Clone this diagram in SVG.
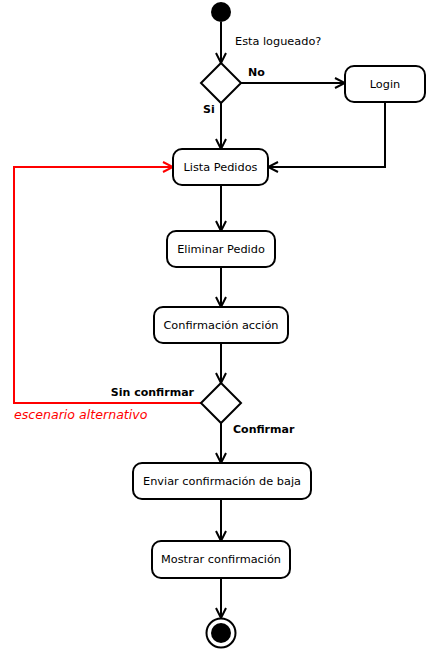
<svg xmlns="http://www.w3.org/2000/svg" width="426" height="650" viewBox="0 0 426 650">
<defs>
<style>
.node rect{fill:#fff;stroke:#000;stroke-width:2}
.dec polygon{fill:#fff;stroke:#000;stroke-width:2}
.t{font-family:"DejaVu Sans",Verdana,sans-serif;font-size:11.3px;fill:#000;text-anchor:middle}
.lb{font-family:"DejaVu Sans",Verdana,sans-serif;font-size:11px;font-weight:bold;fill:#000}
.it{font-family:"DejaVu Sans",Verdana,sans-serif;font-size:12.6px;font-style:italic;fill:#f00}
.ln{fill:none;stroke:#000;stroke-width:2}
.red{fill:none;stroke:#f00;stroke-width:2}
</style>
<marker id="ah" viewBox="0 0 12 12" refX="11" refY="6" markerWidth="12" markerHeight="12" markerUnits="userSpaceOnUse" orient="auto">
<path d="M1,1 L11,6 L1,11" fill="none" stroke="#000" stroke-width="2"/>
</marker>
<marker id="ahr" viewBox="0 0 12 12" refX="11" refY="6" markerWidth="12" markerHeight="12" markerUnits="userSpaceOnUse" orient="auto">
<path d="M1,1 L11,6 L1,11" fill="none" stroke="#f00" stroke-width="2"/>
</marker>
</defs>
<rect width="426" height="650" fill="#fff"/>
<g id="connectors">
<path class="ln" d="M221,22 V63" marker-end="url(#ah)"/>
<path class="ln" d="M241,83 H345" marker-end="url(#ah)"/>
<path class="ln" d="M221,103 V149" marker-end="url(#ah)"/>
<path class="ln" d="M385,102 V167 H268" marker-end="url(#ah)"/>
<path class="ln" d="M221,185 V231" marker-end="url(#ah)"/>
<path class="ln" d="M221,267 V307" marker-end="url(#ah)"/>
<path class="ln" d="M221,343 V383" marker-end="url(#ah)"/>
<path class="red" d="M201,403 H14 V167 H173" marker-end="url(#ahr)"/>
<path class="ln" d="M221,423 V463" marker-end="url(#ah)"/>
<path class="ln" d="M221,499 V541" marker-end="url(#ah)"/>
<path class="ln" d="M221,578 V618" marker-end="url(#ah)"/>
<text class="t" x="235" y="45" style="text-anchor:start">Esta logueado?</text>
<text class="lb" x="248" y="76">No</text>
<text class="lb" x="203" y="113">Si</text>
<text class="lb" x="194" y="396" style="text-anchor:end">Sin confirmar</text>
<text class="it" x="14" y="419">escenario alternativo</text>
<text class="lb" x="233" y="433">Confirmar</text>
</g>
<g id="start"><circle cx="221" cy="12" r="10" fill="#000"/></g>
<g id="dec1" class="dec"><polygon points="221,63 241,83 221,103 201,83"/></g>
<g id="login" class="node"><rect x="345" y="66" width="80" height="36" rx="9"/><text class="t" x="385" y="88">Login</text></g>
<g id="lista" class="node"><rect x="173" y="149" width="95" height="36" rx="9"/><text class="t" x="220.5" y="171">Lista Pedidos</text></g>
<g id="eliminar" class="node"><rect x="167" y="231" width="108" height="36" rx="9"/><text class="t" x="221" y="253">Eliminar Pedido</text></g>
<g id="confirmacion" class="node"><rect x="154" y="307" width="134" height="36" rx="9"/><text class="t" x="221" y="329">Confirmación acción</text></g>
<g id="dec2" class="dec"><polygon points="221,383 241,403 221,423 201,403"/></g>
<g id="enviar" class="node"><rect x="133" y="463" width="178" height="36" rx="9"/><text class="t" x="222" y="485">Enviar confirmación de baja</text></g>
<g id="mostrar" class="node"><rect x="152" y="541" width="138" height="37" rx="9"/><text class="t" x="221" y="563">Mostrar confirmación</text></g>
<g id="end"><circle cx="221" cy="633" r="14.5" fill="#fff" stroke="#000" stroke-width="2"/><circle cx="221" cy="633" r="10" fill="#000"/></g>
</svg>
